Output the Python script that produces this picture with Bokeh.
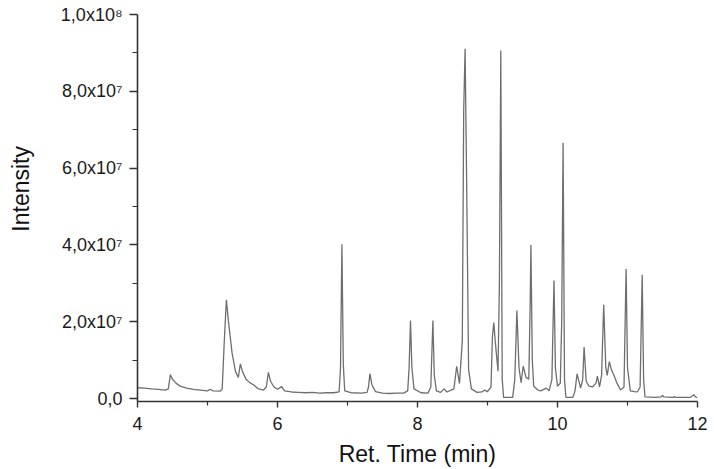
from bokeh.plotting import figure
from bokeh.models import FixedTicker, CustomJSTickFormatter, ColumnDataSource, Range1d
from bokeh.embed import file_html
from bokeh.resources import INLINE

# ---- data (retention time in min, intensity in units of 1e7 counts) ----
rt = [4.00, 4.10, 4.20, 4.30, 4.40, 4.44, 4.47, 4.50, 4.55, 4.61, 4.70, 4.80, 4.90, 5.00, 5.04, 5.08,
      5.18, 5.21, 5.24, 5.27, 5.30, 5.35, 5.40, 5.44, 5.47, 5.50, 5.55, 5.60, 5.66, 5.72, 5.80, 5.84,
      5.87, 5.90, 5.95, 6.00, 6.06, 6.10, 6.20, 6.30, 6.40, 6.50, 6.60, 6.70, 6.80, 6.88, 6.90, 6.92,
      6.94, 6.96, 7.05, 7.20, 7.28, 7.30, 7.32, 7.35, 7.40, 7.50, 7.60, 7.70, 7.80, 7.86, 7.88, 7.90,
      7.92, 7.95, 8.05, 8.15, 8.19, 8.22, 8.24, 8.27, 8.33, 8.38, 8.42, 8.48, 8.52, 8.56, 8.60, 8.64,
      8.66, 8.68, 8.70, 8.73, 8.77, 8.85, 8.92, 8.96, 9.00, 9.05, 9.07, 9.09, 9.11, 9.15, 9.17, 9.19,
      9.21, 9.23, 9.36, 9.39, 9.42, 9.45, 9.48, 9.51, 9.55, 9.59, 9.61, 9.62, 9.64, 9.66, 9.72, 9.76,
      9.84, 9.88, 9.92, 9.95, 9.97, 10.00, 10.04, 10.06, 10.08, 10.10, 10.12, 10.22, 10.25, 10.28,
      10.33, 10.36, 10.38, 10.41, 10.45, 10.50, 10.55, 10.57, 10.60, 10.63, 10.66, 10.69, 10.71,
      10.74, 10.77, 10.80, 10.85, 10.90, 10.95, 10.98, 11.00, 11.04, 11.10, 11.14, 11.18, 11.21,
      11.23, 11.25, 11.40, 11.48, 11.50, 11.52, 11.65, 11.67, 11.69, 11.90, 11.95, 11.97, 12.00]
intensity_e7 = [0.28, 0.27, 0.25, 0.24, 0.22, 0.25, 0.62, 0.50, 0.40, 0.32, 0.27, 0.24, 0.22, 0.20, 0.24, 0.20,
                0.19, 0.25, 1.50, 2.57, 2.00, 1.20, 0.70, 0.55, 0.90, 0.70, 0.50, 0.42, 0.35, 0.26, 0.22, 0.30,
                0.68, 0.45, 0.30, 0.24, 0.31, 0.20, 0.17, 0.16, 0.15, 0.16, 0.14, 0.15, 0.15, 0.17, 0.80, 4.02,
                0.90, 0.20, 0.15, 0.14, 0.16, 0.30, 0.65, 0.35, 0.18, 0.14, 0.13, 0.14, 0.14, 0.20, 0.80, 2.03,
                0.80, 0.25, 0.15, 0.14, 0.30, 2.03, 0.60, 0.20, 0.16, 0.25, 0.17, 0.22, 0.25, 0.84, 0.39, 1.50,
                7.50, 9.11, 6.00, 0.75, 0.25, 0.16, 0.17, 0.22, 0.18, 0.30, 1.60, 1.98, 1.50, 0.71, 3.00, 9.06,
                0.50, 0.03, 0.03, 0.50, 2.29, 0.80, 0.41, 0.84, 0.55, 0.50, 2.50, 4.00, 1.00, 0.32, 0.22, 0.20,
                0.27, 0.20, 0.50, 3.07, 0.80, 0.32, 0.40, 2.00, 6.66, 0.50, 0.03, 0.03, 0.20, 0.64,
                0.27, 0.50, 1.34, 0.45, 0.32, 0.30, 0.40, 0.58, 0.30, 0.60, 2.44, 0.80, 0.60,
                0.96, 0.75, 0.63, 0.40, 0.22, 0.30, 3.37, 0.80, 0.20, 0.18, 0.17, 0.30, 3.22,
                0.50, 0.04, 0.03, 0.04, 0.08, 0.04, 0.03, 0.05, 0.03, 0.03, 0.10, 0.04, 0.02]

x_ticks = [4, 6, 8, 10, 12]
x_minor_ticks = [5, 7, 9, 11]
y_ticks = [0, 2e7, 4e7, 6e7, 8e7, 1e8]
y_minor_ticks = [1e7, 3e7, 5e7, 7e7, 9e7]
y_tick_labels = ["0,0", "2,0x10\u2077", "4,0x10\u2077", "6,0x10\u2077", "8,0x10\u2077", "1,0x10\u2078"]
x_title = "Ret. Time (min)"
y_title = "Intensity"

source = ColumnDataSource(data=dict(x=rt, y=[v * 1e7 for v in intensity_e7]))

p = figure(width=714, height=469, output_backend="svg", toolbar_location=None,
           x_range=Range1d(4, 12), y_range=Range1d(-7.8e5, 1e8),
           min_border_left=137, min_border_right=17, min_border_top=14, min_border_bottom=67)
p.line("x", "y", source=source, line_color="#6e6e6e", line_width=1.3)

p.grid.visible = False
p.outline_line_color = None
p.background_fill_color = "white"
p.border_fill_color = "white"

FONT = "Liberation Sans"
for ax in (p.xaxis[0], p.yaxis[0]):
    ax.axis_line_color = "#333333"
    ax.axis_line_width = 1.6
    ax.major_tick_line_color = "#333333"
    ax.minor_tick_line_color = "#333333"
    ax.major_tick_line_width = 1.4
    ax.minor_tick_line_width = 1.2
    ax.major_tick_in = 0
    ax.minor_tick_in = 0
    ax.major_label_text_font = FONT
    ax.major_label_text_font_size = "18px"
    ax.major_label_text_color = "#1a1a1a"
    ax.axis_label_text_font = FONT
    ax.axis_label_text_font_size = "23px"
    ax.axis_label_text_font_style = "normal"
    ax.axis_label_text_color = "#111111"

p.xaxis.ticker = FixedTicker(ticks=x_ticks, minor_ticks=x_minor_ticks)
p.xaxis.major_tick_out = 6
p.xaxis.minor_tick_out = 4
p.xaxis.major_label_standoff = 9
p.xaxis.axis_label = x_title
p.xaxis.axis_label_standoff = 8

p.yaxis.ticker = FixedTicker(ticks=y_ticks, minor_ticks=y_minor_ticks)
p.yaxis.formatter = CustomJSTickFormatter(args=dict(tvals=y_ticks, tlabels=y_tick_labels), code="""
    for (let i = 0; i < tvals.length; i++) {
        if (Math.abs(tvals[i] - tick) < 1) { return tlabels[i]; }
    }
    return "";
""")
p.yaxis.major_tick_out = 8
p.yaxis.minor_tick_out = 5
p.yaxis.major_label_standoff = 7
p.yaxis.axis_label = "\u00a0" * 6 + y_title
p.yaxis.axis_label_standoff = 24

open("out.html", "w").write(file_html(p, INLINE))
